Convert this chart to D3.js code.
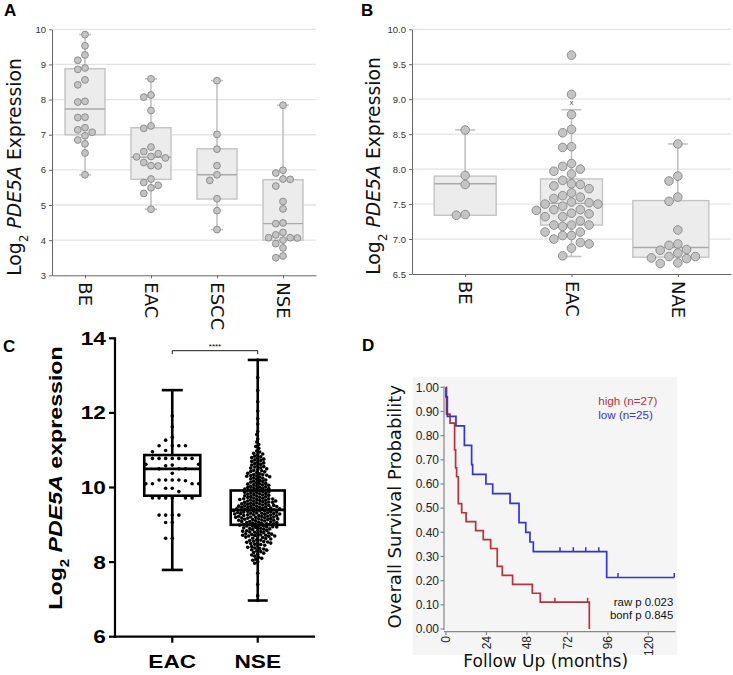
<!DOCTYPE html>
<html><head><meta charset="utf-8">
<script src="https://cdn.jsdelivr.net/npm/d3@7"></script>
<style>body{margin:0;background:#fff}svg{display:block}</style>
</head><body>
<svg id="c" width="733" height="675"></svg>
<script>
// ---------------- Panel A data ----------------
const aCats = ["BE", "EAC", "ESCC", "NSE"];
const aBE = [9.85,9.53,9.27,9.12,8.90,8.86,8.56,8.42,7.95,7.93,7.50,7.49,7.20,7.14,7.07,6.97,6.85,6.74,6.48,5.86];
const aEAC = [8.59,8.13,8.07,7.69,7.25,7.18,6.65,6.52,6.46,6.38,6.37,6.34,6.21,6.12,6.11,5.74,5.64,5.56,5.49,5.33,4.88];
const aESCC = [8.54,7.01,6.59,6.12,5.86,5.70,5.18,4.84,4.30];
const aNSE = [7.84,5.99,5.91,5.74,5.73,5.54,5.10,4.89,4.49,4.47,4.22,4.15,4.07,4.07,4.06,4.00,3.90,3.78,3.55,3.50];
const aQ1 = [7.00, 5.73, 5.17, 4.00];
const aMedian = [7.73, 6.36, 5.86, 4.47];
const aQ3 = [8.88, 7.20, 6.60, 5.72];
const aMin = [5.86, 4.88, 4.30, 4.00];
const aMax = [9.85, 8.59, 8.54, 7.84];
const aTicks = [3, 4, 5, 6, 7, 8, 9, 10];

// ---------------- Panel B data ----------------
const bCats = ["BE", "EAC", "NAE"];
const bBE = [8.56,7.91,7.78,7.35,7.34];
const bEAC = [9.63,9.07,8.78,8.57,8.52,8.32,8.31,8.08,8.04,8.00,7.97,7.93,7.84,7.79,7.78,7.76,7.72,7.66,7.62,7.60,7.58,7.53,7.52,7.50,7.50,7.47,7.42,7.42,7.41,7.37,7.36,7.32,7.32,7.26,7.20,7.20,7.20,7.18,7.10,7.10,7.05,7.05,7.00,6.95,6.93,6.87,6.76];
const bNAE = [8.36,7.90,7.83,7.60,7.54,7.13,6.93,6.91,6.85,6.84,6.80,6.75,6.75,6.73,6.72,6.66,6.65];
const bQ1 = [7.34, 7.20, 6.74];
const bMedian = [7.79, 7.51, 6.88];
const bQ3 = [7.90, 7.86, 7.55];
const bMin = [7.34, 6.75, 6.74];
const bMax = [8.56, 8.85, 8.36];
const bMark = [null, 8.95, null];
const bTicks = [6.5, 7.0, 7.5, 8.0, 8.5, 9.0, 9.5, 10.0];

// ---------------- Panel C data ----------------
const cCats = ["EAC", "NSE"];
const cEAC = [11.92,11.63,11.35,11.27,11.12,11.12,11.12,11.12,10.99,10.96,
  10.78,10.78,10.78,10.78,10.78,10.78,10.78,10.62,10.62,10.60,10.58,10.50,10.50,10.50,10.38,
  10.20,10.20,10.18,10.20,10.20,10.10,10.10,10.10,10.10,9.98,9.98,9.89,
  9.72,9.72,9.72,9.72,9.72,9.72,9.26,9.26,9.26,9.26,9.06,9.06,8.64,8.64];
const cNSE = [13.42,12.95,12.6,12.3,12.05,11.85,11.7,
  11.5,11.42,11.3,11.22,11.15,11.1,11.05,10.98,10.95,10.92,10.9,10.88,
  10.84,10.82,10.8,10.78,10.76,10.74,10.72,10.7,
  10.68,10.66,10.64,10.62,10.6,10.58,10.56,10.55,10.53,10.52,10.5,
  10.48,10.46,10.45,10.43,10.42,10.4,10.38,10.37,10.35,10.34,10.33,10.32,10.31,10.3,
  10.29,10.28,10.26,10.25,10.23,10.22,10.2,10.19,10.17,10.16,10.14,10.13,10.11,10.1,
  10.09,10.08,10.07,10.06,10.04,10.03,10.02,10.01,10.0,9.99,9.98,9.97,9.96,9.95,9.94,9.93,9.92,9.91,
  9.9,9.89,9.88,9.87,9.86,9.85,9.84,9.83,9.82,9.81,9.8,9.79,9.78,9.77,9.76,9.75,9.74,9.73,9.72,9.71,9.7,9.7,
  9.69,9.68,9.68,9.67,9.66,9.65,9.64,9.64,9.63,9.62,9.61,9.6,9.6,9.59,9.58,9.57,9.56,9.56,9.55,9.54,9.53,9.52,9.52,9.51,9.5,9.5,
  9.49,9.49,9.48,9.47,9.47,9.46,9.45,9.45,9.44,9.43,9.43,9.42,9.41,9.41,9.4,9.4,9.39,9.38,9.38,9.37,9.36,9.36,9.35,9.34,9.34,9.33,9.32,9.32,9.31,9.31,9.3,9.3,
  9.29,9.29,9.28,9.27,9.27,9.26,9.25,9.25,9.24,9.23,9.23,9.22,9.21,9.21,9.2,9.2,9.19,9.18,9.18,9.17,9.16,9.16,9.15,9.14,9.14,9.13,9.12,9.12,9.11,9.1,
  9.09,9.09,9.08,9.07,9.06,9.06,9.05,9.04,9.03,9.03,9.02,9.01,9.0,9.0,8.99,8.98,8.97,8.97,8.96,8.95,8.94,8.94,8.93,8.92,8.91,8.9,
  8.89,8.88,8.87,8.86,8.85,8.84,8.83,8.82,8.81,8.8,8.79,8.78,8.77,8.76,8.75,8.74,8.73,8.72,8.72,8.71,8.7,8.7,
  8.69,8.68,8.67,8.66,8.64,8.63,8.62,8.6,8.59,8.58,8.56,8.55,8.54,8.53,8.52,8.51,8.5,
  8.48,8.47,8.45,8.43,8.42,8.4,8.38,8.36,8.35,8.33,8.32,8.3,
  8.28,8.26,8.24,8.21,8.19,8.16,8.13,8.1,8.08,8.05,8.01,7.97,
  7.7,7.4,7.1,6.97];
const cQ1 = [9.78, 9.00];
const cMedian = [10.50, 9.40];
const cQ3 = [10.87, 9.92];
const cMin = [7.79, 6.97];
const cMax = [12.61, 13.42];
const cTicks = [6, 8, 10, 12, 14];
const cSig = "****";

// ---------------- Panel D data ----------------
const kmHighTimes = [0.3,2.4,5.1,5.7,6.3,7.3,9.3,11.9,17.6,22.1,26.5,30.4,33.4,39.5,51.2,55.9,85.0];
const kmHighSurv  = [0.889,0.852,0.741,0.667,0.630,0.519,0.481,0.444,0.407,0.370,0.333,0.259,0.222,0.185,0.148,0.111,0.0];
const kmHighCensor = [64.6, 84.0];
const kmHighEnd = 85.0;
const kmLowTimes = [0.0,0.8,5.9,10.9,15.2,15.8,23.7,27.7,38.0,43.3,47.3,49.8,51.8,95.3];
const kmLowSurv  = [0.96,0.88,0.84,0.76,0.68,0.64,0.60,0.56,0.52,0.44,0.40,0.36,0.32,0.213];
const kmLowCensor = [67.6, 75.5, 82.9, 90.6, 102.0, 135.4];
const kmLowEnd = 135.4;
const dXTicks = [0, 24, 48, 72, 96, 120];
const dYTicks = [0, 0.1, 0.2, 0.3, 0.4, 0.5, 0.6, 0.7, 0.8, 0.9, 1.0];
const legendLabels = ["high (n=27)", "low (n=25)"];
const pLabels = ["raw p 0.023", "bonf p 0.845"];

// =====================================================
const svg = d3.select("#c");
const SANS = "'Liberation Sans', Arial, sans-serif";
const DEJ = "'DejaVu Sans', Verdana, sans-serif";

function panelLabel(t, x, y) {
  svg.append("text").attr("x", x).attr("y", y).text(t)
    .attr("font-family", SANS).attr("font-weight", "bold").attr("font-size", 17).attr("fill", "#000");
}

function swarm(values, y, cx, d, step) {
  const pts = values.map(v => ({v, y: y(v)})).sort((a, b) => a.y - b.y);
  const placed = [];
  for (const p of pts) {
    for (let k = 0; k < 2000; k++) {
      const off = (k % 2 === 1 ? -1 : 1) * Math.ceil(k / 2) * step;
      const x = cx + off;
      if (!placed.some(q => (q.x - x) ** 2 + (q.y - p.y) ** 2 < d * d - 0.01)) { p.x = x; break; }
    }
    placed.push(p);
  }
  return pts;
}

function greyPanel(cfg) {
  const g = svg.append("g");
  const y = d3.scaleLinear().domain(cfg.yDomain).range(cfg.yRange);
  const x = d3.scalePoint().domain(cfg.cats).range(cfg.xRange).padding(0.5);
  g.append("g").selectAll("line").data(cfg.ticks.slice(1)).join("line")
    .attr("x1", cfg.xRange[0]).attr("x2", cfg.xRange[1])
    .attr("y1", d => y(d)).attr("y2", d => y(d))
    .attr("stroke", "#e3e3e3").attr("stroke-width", 1.3);
  const ya = g.append("g").attr("transform", `translate(${cfg.xRange[0]},0)`)
    .call(d3.axisLeft(y).tickValues(cfg.ticks).tickFormat(cfg.fmt).tickSize(3).tickSizeOuter(0).tickPadding(3));
  ya.select(".domain").attr("stroke", "#666");
  ya.selectAll(".tick line").attr("stroke", "#666");
  ya.selectAll("text").attr("fill", "#333").attr("font-family", SANS).attr("font-size", 9.5);
  const xa = g.append("g").attr("transform", `translate(0,${cfg.yRange[0]})`)
    .call(d3.axisBottom(x).tickSize(3).tickSizeOuter(0));
  xa.select(".domain").attr("stroke", "#666");
  xa.selectAll(".tick line").attr("stroke", "#666");
  xa.selectAll("text").attr("y", 0).attr("x", 7).attr("dy", "0.36em")
    .attr("transform", "rotate(90)").style("text-anchor", "start")
    .attr("font-family", DEJ).attr("font-size", 18).attr("fill", "#111");
  cfg.cats.forEach((c, i) => {
    const cx = x(c);
    const [hl, hr] = cfg.boxHalf(c);
    const wc = "#c2c2c2";
    g.append("line").attr("x1", cx).attr("x2", cx).attr("y1", y(cfg.max[i])).attr("y2", y(cfg.q3[i]))
      .attr("stroke", wc).attr("stroke-width", 1.6);
    g.append("line").attr("x1", cx - cfg.capW / 2).attr("x2", cx + cfg.capW / 2).attr("y1", y(cfg.max[i])).attr("y2", y(cfg.max[i]))
      .attr("stroke", wc).attr("stroke-width", 1.6);
    if (cfg.min[i] < cfg.q1[i]) {
      g.append("line").attr("x1", cx).attr("x2", cx).attr("y1", y(cfg.min[i])).attr("y2", y(cfg.q1[i]))
        .attr("stroke", wc).attr("stroke-width", 1.6);
      g.append("line").attr("x1", cx - cfg.capW / 2).attr("x2", cx + cfg.capW / 2).attr("y1", y(cfg.min[i])).attr("y2", y(cfg.min[i]))
        .attr("stroke", wc).attr("stroke-width", 1.6);
    }
    g.append("rect").attr("x", cx - hl).attr("width", hl + hr)
      .attr("y", y(cfg.q3[i])).attr("height", y(cfg.q1[i]) - y(cfg.q3[i]))
      .attr("fill", "#ececec").attr("stroke", "#c4c4c4").attr("stroke-width", 1.4);
    g.append("line").attr("x1", cx - hl).attr("x2", cx + hr).attr("y1", y(cfg.median[i])).attr("y2", y(cfg.median[i]))
      .attr("stroke", "#aaaaaa").attr("stroke-width", 1.4);
    if (cfg.mark && cfg.mark[i] != null) {
      g.append("text").attr("x", cx).attr("y", y(cfg.mark[i])).attr("dy", "0.3em").attr("text-anchor", "middle")
        .attr("font-family", SANS).attr("font-size", 8).attr("fill", "#555").text("x");
    }
    const pts = swarm(cfg.groups[i], y, cx, cfg.d, cfg.d);
    g.append("g").selectAll("circle").data(pts).join("circle")
      .attr("cx", d => d.x).attr("cy", d => d.y).attr("r", cfg.r)
      .attr("fill", "#c4c4c4").attr("stroke", "#8e8e8e").attr("stroke-width", 1);
  });
  const t = g.append("text").attr("transform", `translate(${cfg.titleX},${cfg.titleY}) rotate(-90)`)
    .attr("text-anchor", "middle").attr("font-family", DEJ).attr("font-size", 18.8).attr("fill", "#111");
  t.append("tspan").text("Log");
  t.append("tspan").text("2").attr("baseline-shift", "sub").attr("font-size", "65%");
  t.append("tspan").text(" ");
  t.append("tspan").text("PDE5A").attr("font-style", "italic");
  t.append("tspan").text(" Expression");
}

// ---- Panel A
panelLabel("A", 4, 16);
greyPanel({
  cats: aCats, groups: [aBE, aEAC, aESCC, aNSE],
  q1: aQ1, median: aMedian, q3: aQ3, min: aMin, max: aMax,
  yDomain: [3, 10], yRange: [275.3, 29.3], xRange: [52, 316],
  ticks: aTicks, fmt: d3.format("d"),
  boxHalf: () => [20, 20], capW: 12, r: 3.4, d: 7.2, titleX: 20.5, titleY: 167
});

// ---- Panel B
panelLabel("B", 361, 16);
greyPanel({
  cats: bCats, groups: [bBE, bEAC, bNAE],
  q1: bQ1, median: bMedian, q3: bQ3, min: bMin, max: bMax, mark: bMark,
  yDomain: [6.5, 10], yRange: [274, 29.3], xRange: [412, 731],
  ticks: bTicks, fmt: d3.format(".1f"),
  boxHalf: c => c === "NAE" ? [45, 31] : [31, 31], capW: 20, r: 4.3, d: 8.8, titleX: 380, titleY: 166
});

// ---- Panel C
panelLabel("C", 3, 352);
(function () {
  const g = svg.append("g");
  const y = d3.scaleLinear().domain([6, 14]).range([636.7, 338.3]);
  const x = d3.scalePoint().domain(cCats).range([115, 315]).padding(0.67);
  const SX = 1.22, FS = 18.6;
  g.append("line").attr("x1", 115).attr("x2", 115).attr("y1", y(14) - 1).attr("y2", y(6) + 1).attr("stroke", "#000").attr("stroke-width", 2.2);
  g.append("line").attr("x1", 114).attr("x2", 315).attr("y1", y(6)).attr("y2", y(6)).attr("stroke", "#000").attr("stroke-width", 2.2);
  cTicks.forEach(t => {
    g.append("line").attr("x1", 109).attr("x2", 115).attr("y1", y(t)).attr("y2", y(t)).attr("stroke", "#000").attr("stroke-width", 2.2);
    g.append("text").attr("transform", `translate(106,${y(t)}) scale(${SX},1)`).attr("dy", "0.35em")
      .attr("text-anchor", "end").attr("font-family", SANS).attr("font-weight", "bold").attr("font-size", FS).text(t);
  });
  cCats.forEach(c => {
    g.append("line").attr("x1", x(c)).attr("x2", x(c)).attr("y1", y(6)).attr("y2", y(6) + 6).attr("stroke", "#000").attr("stroke-width", 2.2);
    g.append("text").attr("transform", `translate(${x(c)},668) scale(${SX},1)`)
      .attr("text-anchor", "middle").attr("font-family", SANS).attr("font-weight", "bold").attr("font-size", FS).text(c);
  });
  const t = g.append("text").attr("transform", `translate(62,478) rotate(-90) scale(${SX},1)`)
    .attr("text-anchor", "middle").attr("font-family", SANS).attr("font-weight", "bold").attr("font-size", FS + 0.4).attr("fill", "#000");
  t.append("tspan").text("Log");
  t.append("tspan").text("2").attr("baseline-shift", "sub").attr("font-size", "65%");
  t.append("tspan").text(" ");
  t.append("tspan").text("PDE5A").attr("font-style", "italic");
  t.append("tspan").text(" expression");
  const by = 350.7;
  g.append("path").attr("d", `M${x("EAC")},${by + 3.5}V${by}H${x("NSE")}V${by + 3.5}`)
    .attr("fill", "none").attr("stroke", "#000").attr("stroke-width", 0.9);
  g.append("text").attr("x", (x("EAC") + x("NSE")) / 2).attr("y", by - 2).attr("text-anchor", "middle")
    .attr("font-family", SANS).attr("font-size", 8).attr("fill", "#000").text(cSig);
  const groups = [cEAC, cNSE];
  const halfW = [28, 27], capHalf = [10.5, 10];
  cCats.forEach((c, i) => {
    const cx = x(c);
    g.append("line").attr("x1", cx).attr("x2", cx).attr("y1", y(cMax[i])).attr("y2", y(cMin[i])).attr("stroke", "#000").attr("stroke-width", 2.6);
    [cMax[i], cMin[i]].forEach(v => g.append("line").attr("x1", cx - capHalf[i]).attr("x2", cx + capHalf[i])
      .attr("y1", y(v)).attr("y2", y(v)).attr("stroke", "#000").attr("stroke-width", 2.6));
    g.append("rect").attr("x", cx - halfW[i]).attr("width", 2 * halfW[i]).attr("y", y(cQ3[i])).attr("height", y(cQ1[i]) - y(cQ3[i]))
      .attr("fill", "#fff").attr("stroke", "#000").attr("stroke-width", 2.6);
    g.append("line").attr("x1", cx - halfW[i]).attr("x2", cx + halfW[i]).attr("y1", y(cMedian[i])).attr("y2", y(cMedian[i]))
      .attr("stroke", "#000").attr("stroke-width", 2.6);
    const pts = i === 0 ? swarm(groups[i], y, cx, 6.6, 6.6) : swarm(groups[i], y, cx, 3.1, 1);
    g.append("g").selectAll("circle").data(pts).join("circle")
      .attr("cx", d => d.x).attr("cy", d => d.y).attr("r", 1.8).attr("fill", "#000");
  });
})();

// ---- Panel D
panelLabel("D", 362, 351);
(function () {
  const g = svg.append("g");
  const x = d3.scaleLinear().domain([0, 136]).range([446, 675.3]);
  const y = d3.scaleLinear().domain([0, 1]).range([629, 387.3]);
  g.append("rect").attr("x", 412.7).attr("y", 376.7).attr("width", 264.6).attr("height", 278.3).attr("fill", "#f5f5f5");
  g.append("line").attr("x1", 444).attr("x2", 444).attr("y1", y(1) - 1).attr("y2", y(0) + 1).attr("stroke", "#888").attr("stroke-width", 1.2);
  dYTicks.forEach(t => {
    g.append("line").attr("x1", 440.5).attr("x2", 444).attr("y1", y(t)).attr("y2", y(t)).attr("stroke", "#888").attr("stroke-width", 1.2);
    g.append("text").attr("x", 439).attr("y", y(t)).attr("dy", "0.35em").attr("text-anchor", "end")
      .attr("font-family", SANS).attr("font-size", 12).attr("fill", "#222").text(d3.format(".2f")(t));
  });
  g.append("line").attr("x1", 444).attr("x2", 675.3).attr("y1", 631.7).attr("y2", 631.7).attr("stroke", "#888").attr("stroke-width", 1.2);
  dXTicks.forEach(t => {
    g.append("line").attr("x1", x(t)).attr("x2", x(t)).attr("y1", 631.7).attr("y2", 635).attr("stroke", "#888").attr("stroke-width", 1.2);
    g.append("text").attr("transform", `translate(${x(t)},636) rotate(-90)`).attr("dy", "0.35em").attr("text-anchor", "end")
      .attr("font-family", SANS).attr("font-size", 12).attr("fill", "#222").text(t);
  });
  g.append("text").attr("x", 545.7).attr("y", 666.5).attr("text-anchor", "middle")
    .attr("font-family", DEJ).attr("font-size", 17).attr("fill", "#111").text("Follow Up (months)");
  g.append("text").attr("transform", "translate(401,506.7) rotate(-90)").attr("text-anchor", "middle")
    .attr("font-family", DEJ).attr("font-size", 18).attr("fill", "#111").text("Overall Survival Probability");
  const line = d3.line().x(d => x(d[0])).y(d => y(d[1])).curve(d3.curveStepAfter);
  function curve(times, surv, end, censor, color) {
    const pts = [[0, 1]];
    times.forEach((t, i) => pts.push([t, surv[i]]));
    pts.push([end, surv[surv.length - 1]]);
    g.append("path").attr("d", line(pts)).attr("fill", "none").attr("stroke", color).attr("stroke-width", 1.7);
    const sAt = t => { let s = 1; times.forEach((tt, i) => { if (tt <= t) s = surv[i]; }); return s; };
    censor.forEach(c => {
      const s = sAt(c);
      g.append("line").attr("x1", x(c)).attr("x2", x(c)).attr("y1", y(s)).attr("y2", y(s) - 4.5)
        .attr("stroke", color).attr("stroke-width", 1.5);
    });
  }
  curve(kmHighTimes, kmHighSurv, kmHighEnd, kmHighCensor, "#b5323e");
  curve(kmLowTimes, kmLowSurv, kmLowEnd, kmLowCensor, "#3434cf");
  g.append("text").attr("x", 598.3).attr("y", 405.3).attr("font-family", SANS).attr("font-size", 11.6).attr("fill", "#b5323e").text(legendLabels[0]);
  g.append("text").attr("x", 598.3).attr("y", 418.6).attr("font-family", SANS).attr("font-size", 11.6).attr("fill", "#3434cf").text(legendLabels[1]);
  g.append("text").attr("x", 673.3).attr("y", 605.5).attr("text-anchor", "end").attr("font-family", SANS).attr("font-size", 11.4).attr("fill", "#111").text(pLabels[0]);
  g.append("text").attr("x", 673.3).attr("y", 618.6).attr("text-anchor", "end").attr("font-family", SANS).attr("font-size", 11.4).attr("fill", "#111").text(pLabels[1]);
})();
</script>
</body></html>
